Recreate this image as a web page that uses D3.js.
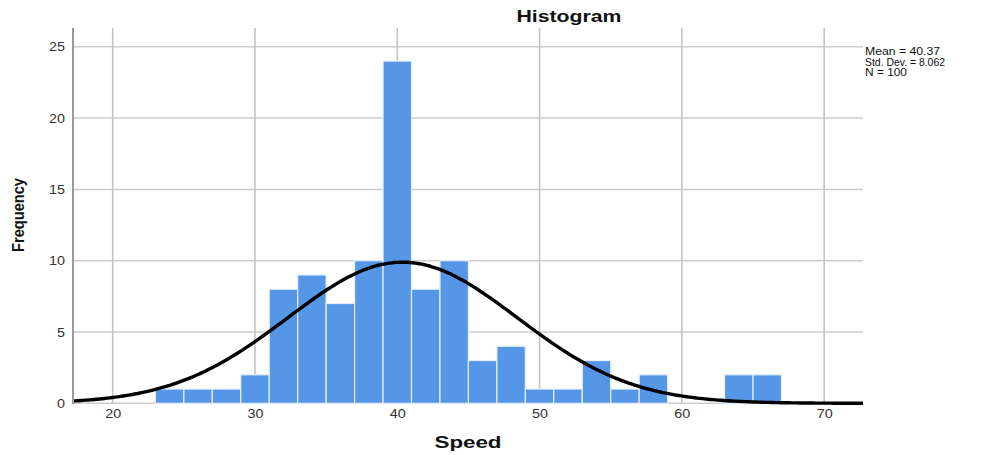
<!DOCTYPE html>
<html>
<head>
<meta charset="utf-8">
<script src="https://cdn.jsdelivr.net/npm/d3@7"></script>
<style>
  html, body { margin: 0; padding: 0; background: #fff; }
  svg { display: block; font-family: "Liberation Sans", Arial, sans-serif; }
</style>
</head>
<body>
<svg id="chart" width="992" height="455"></svg>
<script>
// ---- data ----
const binStarts = [23, 25, 27, 29, 31, 33, 35, 37, 39, 41, 43, 45, 47, 49, 51, 53, 55, 57, 59, 61, 63, 65];
const counts    = [ 1,  1,  1,  2,  8,  9,  7, 10, 24,  8, 10,  3,  4,  1,  1,  3,  1,  2,  0,  0,  2,  2];
const binWidth = 2;
const xTicks = [20, 30, 40, 50, 60, 70];
const yTicks = [0, 5, 10, 15, 20, 25];
const statLabels = ["Mean = 40.37", "Std. Dev. = 8.062", "N = 100"];
const mean = 40.37, stdDev = 8.062, nObs = 100;

(function () {
// ---- layout ----
const svg = d3.select("#chart");
const pLeft = 73, pRight = 863, pTop = 28, pBottom = 403.3;
const x = d3.scaleLinear().domain([17.21, 72.73]).range([pLeft, pRight]);
const y = d3.scaleLinear().domain([0, 26.32]).range([pBottom, pTop]);

// gridlines
svg.append("g").selectAll("line").data(yTicks).join("line")
  .attr("x1", pLeft).attr("x2", pRight)
  .attr("y1", d => y(d)).attr("y2", d => y(d))
  .attr("stroke", "#cdcdcd").attr("stroke-width", 1.5);
svg.append("g").selectAll("line").data(xTicks).join("line")
  .attr("x1", d => x(d)).attr("x2", d => x(d))
  .attr("y1", pTop).attr("y2", pBottom)
  .attr("stroke", "#c4c4c4").attr("stroke-width", 1.6);

// bars
const bins = binStarts.map((s, i) => ({ x0: s, x1: s + binWidth, n: counts[i] })).filter(d => d.n > 0);
svg.append("g").selectAll("rect").data(bins).join("rect")
  .attr("x", d => x(d.x0))
  .attr("width", d => x(d.x1) - x(d.x0))
  .attr("y", d => y(d.n))
  .attr("height", d => y(0) - y(d.n))
  .attr("fill", "#5596e6")
  .attr("stroke", "#e6eefa").attr("stroke-width", 1.2);

// normal curve
const pts = d3.range(0, 301).map(i => {
  const v = 17.21 + (72.73 - 17.21) * i / 300;
  const pdf = Math.exp(-0.5 * Math.pow((v - mean) / stdDev, 2)) / (stdDev * Math.sqrt(2 * Math.PI));
  return [v, nObs * binWidth * pdf];
});
svg.append("path").datum(pts)
  .attr("fill", "none").attr("stroke", "#000").attr("stroke-width", 3.4)
  .attr("d", d3.line().x(d => x(d[0])).y(d => y(d[1])).curve(d3.curveBasis));

// left axis line
svg.append("line").attr("x1", pLeft).attr("x2", pLeft).attr("y1", pTop).attr("y2", pBottom + 1)
  .attr("stroke", "#9a9a9a").attr("stroke-width", 2);

// y axis labels
const yAxis = svg.append("g").attr("transform", `translate(${pLeft},0)`)
  .call(d3.axisLeft(y).tickValues(yTicks).tickSize(0).tickPadding(8));
yAxis.select(".domain").remove();
yAxis.selectAll("text")
  .attr("font-family", "'Liberation Sans', Arial, sans-serif")
  .attr("font-size", 12.5).attr("fill", "#333")
  .attr("textLength", d => String(d).length * 8).attr("lengthAdjust", "spacingAndGlyphs");

// x axis labels
const xAxis = svg.append("g").attr("transform", `translate(0,${pBottom})`)
  .call(d3.axisBottom(x).tickValues(xTicks).tickSize(0).tickPadding(6));
xAxis.select(".domain").remove();
xAxis.selectAll("text")
  .attr("font-family", "'Liberation Sans', Arial, sans-serif")
  .attr("font-size", 12.5).attr("fill", "#333")
  .attr("textLength", 16).attr("lengthAdjust", "spacingAndGlyphs");

// title
svg.append("text").attr("x", 569).attr("y", 22).attr("text-anchor", "middle")
  .attr("font-size", 16).attr("font-weight", "bold").attr("fill", "#111")
  .attr("textLength", 105).attr("lengthAdjust", "spacingAndGlyphs")
  .text("Histogram");

// axis titles
svg.append("text").attr("x", 468).attr("y", 448).attr("text-anchor", "middle")
  .attr("font-size", 16).attr("font-weight", "bold").attr("fill", "#111")
  .attr("textLength", 67).attr("lengthAdjust", "spacingAndGlyphs")
  .text("Speed");
svg.append("text").attr("transform", "translate(24,215) rotate(-90)").attr("text-anchor", "middle")
  .attr("font-size", 16.5).attr("font-weight", "bold").attr("fill", "#111")
  .attr("textLength", 74).attr("lengthAdjust", "spacingAndGlyphs")
  .text("Frequency");

// stats legend
const statWidths = [75, 80, 42];
svg.append("g").selectAll("text").data(statLabels).join("text")
  .attr("x", 865).attr("y", (d, i) => 55 + i * 10.5)
  .attr("font-size", 11.5).attr("fill", "#111")
  .attr("textLength", (d, i) => statWidths[i]).attr("lengthAdjust", "spacingAndGlyphs")
  .text(d => d);
})();
</script>
</body>
</html>
